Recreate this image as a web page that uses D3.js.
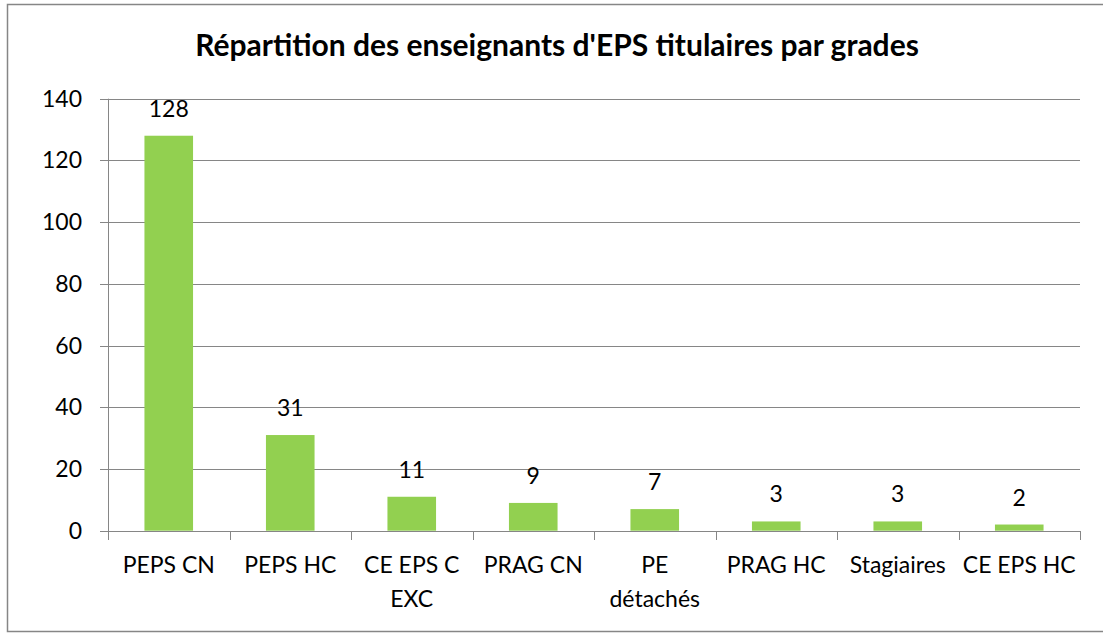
<!DOCTYPE html>
<html lang="fr">
<head>
<meta charset="utf-8" />
<title>Répartition des enseignants</title>
<script src="https://d3js.org/d3.v7.min.js"></script>
<style>
  body { margin: 0; background: #fff; }
  text { font-family: Lato, "Open Sans", sans-serif; fill: #000; }
</style>
</head>
<body>
<div id="chart"></div>
<script>
// data
const categories = ["PEPS CN", "PEPS HC", "CE EPS C EXC", "PRAG CN", "PE détachés", "PRAG HC", "Stagiaires", "CE EPS HC"];
const values = [128, 31, 11, 9, 7, 3, 3, 2];
const yTicks = [0, 20, 40, 60, 80, 100, 120, 140];
const title = "Répartition des enseignants d'EPS titulaires par grades";

const W = 1103, H = 635;
const plot = {left: 108, right: 1080, top: 98.7, bottom: 530.7};
const grid = "#868686";
const fs = "23px";

const svg = d3.select("#chart").append("svg")
  .attr("width", W)
  .attr("height", H);

// chart frame
svg.append("rect")
  .attr("x", 7.5).attr("y", 4.5)
  .attr("width", 1110).attr("height", 627)
  .attr("fill", "#fff")
  .attr("stroke", grid)
  .attr("stroke-width", 1.5);

const x = d3.scaleBand()
  .domain(categories)
  .range([plot.left, plot.right])
  .paddingInner(0.6)
  .paddingOuter(0.3);

const y = d3.scaleLinear()
  .domain([0, 140])
  .range([plot.bottom, plot.top]);

// gridlines
svg.append("g")
  .selectAll("line")
  .data(yTicks)
  .join("line")
    .attr("x1", plot.left - 8)
    .attr("x2", plot.right)
    .attr("y1", d => Math.round(y(d)) + 0.5)
    .attr("y2", d => Math.round(y(d)) + 0.5)
    .attr("stroke", grid)
    .attr("stroke-width", 1);

// y labels
svg.append("g")
  .selectAll("text")
  .data(yTicks)
  .join("text")
    .attr("x", 82)
    .attr("y", d => y(d))
    .attr("dy", "0.35em")
    .attr("text-anchor", "end")
    .style("font-size", fs)
    .text(d => d);

// y axis line
svg.append("line")
  .attr("x1", plot.left + 0.5).attr("x2", plot.left + 0.5)
  .attr("y1", plot.top).attr("y2", plot.bottom + 1)
  .attr("stroke", grid);

// x ticks at band edges
const edges = d3.range(categories.length + 1).map(i => plot.left + i * (plot.right - plot.left) / categories.length);
svg.append("g")
  .selectAll("line")
  .data(edges)
  .join("line")
    .attr("x1", d => Math.round(d) + 0.5)
    .attr("x2", d => Math.round(d) + 0.5)
    .attr("y1", Math.round(plot.bottom))
    .attr("y2", Math.round(plot.bottom) + 9)
    .attr("stroke", grid);

// bars
svg.append("g")
  .selectAll("rect")
  .data(values)
  .join("rect")
    .attr("x", (d, i) => x(categories[i]))
    .attr("y", d => y(d))
    .attr("width", x.bandwidth())
    .attr("height", d => y(0) - y(d))
    .attr("fill", "#92d050");

// value labels
svg.append("g")
  .selectAll("text")
  .data(values)
  .join("text")
    .attr("x", (d, i) => x(categories[i]) + x.bandwidth() / 2)
    .attr("y", d => y(d) - 19)
    .attr("text-anchor", "middle")
    .style("font-size", fs)
    .text(d => d);

// category labels, wrapped to band width
const catG = svg.append("g");
categories.forEach((c, i) => {
  const cx = x(c) + x.bandwidth() / 2;
  const t = catG.append("text")
    .attr("x", cx)
    .attr("y", 573)
    .attr("text-anchor", "middle")
    .style("font-size", fs);
  const words = c.split(" ");
  let line = [];
  let tspan = t.append("tspan").attr("x", cx).attr("dy", 0);
  words.forEach(w => {
    line.push(w);
    tspan.text(line.join(" "));
    if (tspan.node().getComputedTextLength() > 118 && line.length > 1) {
      line.pop();
      tspan.text(line.join(" "));
      line = [w];
      tspan = t.append("tspan").attr("x", cx).attr("dy", 34).text(w);
    }
  });
});

// title
svg.append("text")
  .attr("x", 557)
  .attr("y", 56)
  .attr("text-anchor", "middle")
  .style("font-size", "30px")
  .style("font-weight", "bold")
  .text(title);
</script>
</body>
</html>
